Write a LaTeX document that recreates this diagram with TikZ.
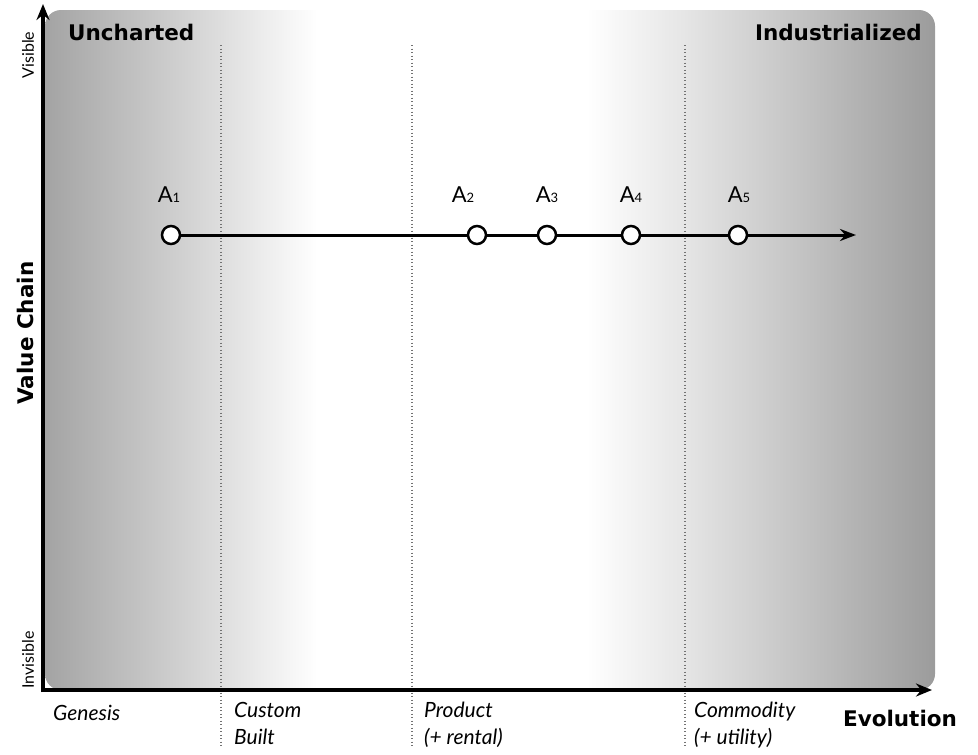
\documentclass[tikz,border=0pt]{standalone}
\usepackage{fontspec}
\setmainfont{Lato}
\newfontfamily\headfont{DejaVu Sans}
\usetikzlibrary{arrows.meta}
\pgfdeclarehorizontalshading{evoshade}{100bp}{%
  color(0bp)=(black!36); color(25bp)=(black!36); color(34.9bp)=(black!13);
  color(40.3bp)=(white); color(55.4bp)=(white);
  color(60.9bp)=(black!10); color(75bp)=(black!39); color(100bp)=(black!39)}
\tikzset{
  axis/.style={line width=4pt,-{Stealth[length=16pt,width=13pt]}},
  chain/.style={line width=3pt},
  comp/.style={circle,draw=black,fill=white,line width=2.5pt,minimum size=18pt,inner sep=0pt},
  comptext/.style={font=\fontsize{22}{22}\selectfont,inner sep=0pt},
  stage/.style={font=\fontsize{21}{27}\selectfont\itshape,align=left,anchor=north west,inner sep=0pt},
  divider/.style={draw=black!55,line width=1.2pt,dash pattern=on 1pt off 2.5pt},
  heading/.style={font=\headfont\bfseries\fontsize{21.5}{21.5}\selectfont,inner sep=0pt},
  sidetext/.style={font=\fontsize{16}{16}\selectfont,rotate=90,inner sep=0pt}
}
\begin{document}
\begin{tikzpicture}[x=1pt,y=-1pt]
\useasboundingbox (0,0) rectangle (978,755);
% background
\shade[shading=evoshade,rounded corners=16pt] (45,10) rectangle (935,690);
% dividers
\coordinate (d1t) at (221,45); \coordinate (d1b) at (221,748);
\coordinate (d2t) at (412,45); \coordinate (d2b) at (412,748);
\coordinate (d3t) at (685,45); \coordinate (d3b) at (685,748);
\draw[divider] (d1t) -- (d1b);
\draw[divider] (d2t) -- (d2b);
\draw[divider] (d3t) -- (d3b);
% axes
\coordinate (origin) at (43,690);
\coordinate (ytop) at (43,4);
\coordinate (xend) at (932,690);
\draw[axis] (43,692) -- (ytop);
\draw[axis] (41,690) -- (xend);
% headings
\node[heading,anchor=west] (unch) at (68,32) {Uncharted};
\node[heading,anchor=east] (indu) at (922,32) {Industrialized};
\node[sidetext] (vis) at (28,55) {Visible};
\node[sidetext] (invis) at (28,660) {Invisible};
\node[heading,rotate=90] (vc) at (25,333) {Value Chain};
\node[heading] (evo) at (900,718) {Evolution};
% stages
\node[stage] (gen) at (53,705) {Genesis};
\node[stage] (cus) at (234,702) {Custom\\Built};
\node[stage] (pro) at (424,702) {Product\\(+ rental)};
\node[stage] (com) at (694,702) {Commodity\\(+ utility)};
% chain
\node[comp] (c1) at (171,235) {};
\node[comp] (c2) at (477,235) {};
\node[comp] (c3) at (547,235) {};
\node[comp] (c4) at (631,235) {};
\node[comp] (c5) at (738,235) {};
\coordinate (cend) at (856,235);
\draw[chain] (c1) -- (c2);
\draw[chain] (c2) -- (c3);
\draw[chain] (c3) -- (c4);
\draw[chain] (c4) -- (c5);
\draw[chain,-{Stealth[length=16pt,width=12pt]}] (c5) -- (cend);
\node[comptext] (a1) at (169,195) {A{\fontsize{13}{13}\selectfont 1}};
\node[comptext] (a2) at (463,195) {A{\fontsize{13}{13}\selectfont 2}};
\node[comptext] (a3) at (547,195) {A{\fontsize{13}{13}\selectfont 3}};
\node[comptext] (a4) at (631,195) {A{\fontsize{13}{13}\selectfont 4}};
\node[comptext] (a5) at (739,195) {A{\fontsize{13}{13}\selectfont 5}};
\end{tikzpicture}
\end{document}
